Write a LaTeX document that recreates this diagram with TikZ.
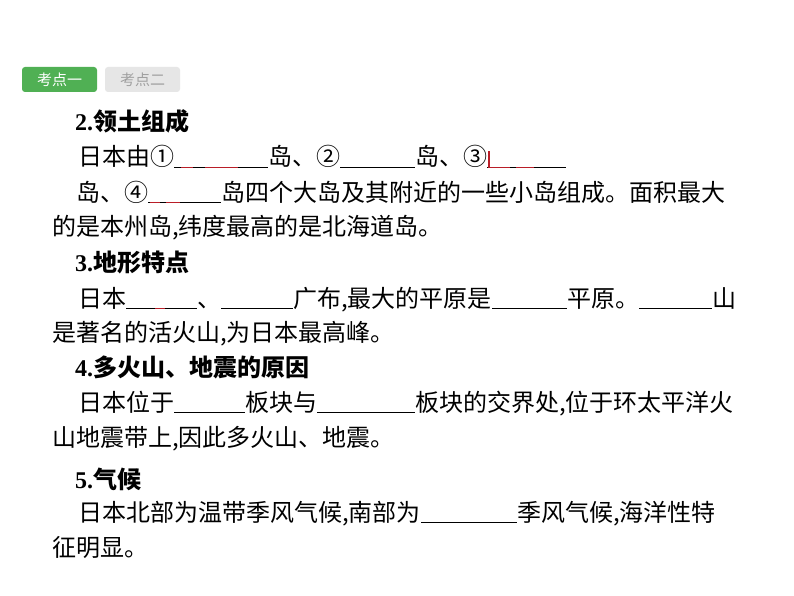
\documentclass[tikz,border=0pt]{standalone}
\usepackage{fontspec}
\setmainfont{Liberation Serif}
\newfontfamily\cjk{Noto Sans CJK SC}
\definecolor{tabgreen}{RGB}{80,176,84}
\definecolor{tabgrey}{RGB}{230,230,230}
\definecolor{tabtext}{RGB}{160,160,160}
\definecolor{markred}{RGB}{185,30,40}

\begin{document}
\begin{tikzpicture}[x=1pt,y=-1pt,
  body/.style={anchor=base west,inner sep=0pt,font=\cjk\fontsize{24}{24}\selectfont},
  head/.style={anchor=base west,inner sep=0pt,font=\cjk\bfseries\fontsize{24}{24}\selectfont},
  tab/.style={rounded corners=3pt,minimum width=75pt,minimum height=25pt,inner sep=0pt,font=\cjk\fontsize{15}{15}\selectfont},
  blank/.style={line width=1.6pt},
  redmark/.style={markred,line width=1.6pt}]

\useasboundingbox[fill=white] (0,0) rectangle (794,596);

% Tabs
\node (tabone) at (59.5,79.5) [tab,fill=tabgreen,text=white] {考点一};
\node (tabtwo) at (142.5,79.5) [tab,fill=tabgrey,text=tabtext] {考点二};

% 2. Territory
\node (h2) at (75,131) [head] {{\rmfamily 2.}领土组成};
\node (l1a) at (78,166) [body] {日本由①};
\node (l1b) at (268,166) [body] {岛、②};
\node (l1c) at (415,166) [body] {岛、③};
\coordinate (l1end) at (566,166);
\draw[blank] ([yshift=-1.5pt]l1a.base east) -- ([yshift=-1.5pt]l1b.base west);
\draw[blank] ([yshift=-1.5pt]l1b.base east) -- ([yshift=-1.5pt]l1c.base west);
\draw[blank] ([yshift=-1.5pt]l1c.base east) -- ([yshift=-1.5pt]l1end);
\node (l2a) at (76,201) [body] {岛、④};
\node (l2b) at (221,201) [body] {岛四个大岛及其附近的一些小岛组成。面积最大};
\draw[blank] ([yshift=-1.5pt]l2a.base east) -- ([yshift=-1.5pt]l2b.base west);
\node (l3) at (52,235) [body] {的是本州岛,纬度最高的是北海道岛。};

% 3. Landforms
\node (h3) at (75,271) [head] {{\rmfamily 3.}地形特点};
\node (l4a) at (78,307) [body] {日本};
\node (l4b) at (197,307) [body] {、};
\node (l4c) at (293,307) [body] {广布,最大的平原是};
\node (l4d) at (567,307) [body] {平原。};
\node (l4e) at (712,307) [body] {山};
\draw[blank] ([yshift=-1.5pt]l4a.base east) -- ([yshift=-1.5pt]l4b.base west);
\draw[blank] ([yshift=-1.5pt]l4b.base east) -- ([yshift=-1.5pt]l4c.base west);
\draw[blank] ([yshift=-1.5pt]l4c.base east) -- ([yshift=-1.5pt]l4d.base west);
\draw[blank] ([yshift=-1.5pt]l4d.base east) -- ([yshift=-1.5pt]l4e.base west);
\node (l5) at (52,341) [body] {是著名的活火山,为日本最高峰。};

% 4. Volcanoes and earthquakes
\node (h4) at (75,376) [head] {{\rmfamily 4.}多火山、地震的原因};
\node (l6a) at (78,411) [body] {日本位于};
\node (l6b) at (245,411) [body] {板块与};
\node (l6c) at (415,411) [body] {板块的交界处,位于环太平洋火};
\draw[blank] ([yshift=-1.5pt]l6a.base east) -- ([yshift=-1.5pt]l6b.base west);
\draw[blank] ([yshift=-1.5pt]l6b.base east) -- ([yshift=-1.5pt]l6c.base west);
\node (l7) at (52,446) [body] {山地震带上,因此多火山、地震。};

% 5. Climate
\node (h5) at (75,488) [head] {{\rmfamily 5.}气候};
\node (l8a) at (78,521) [body] {日本北部为温带季风气候,南部为};
\node (l8b) at (517,521) [body] {季风气候,海洋性特};
\draw[blank] ([yshift=-1.5pt]l8a.base east) -- ([yshift=-1.5pt]l8b.base west);
\node (l9) at (52,556) [body] {征明显。};

% Red marks left on the blanks
\draw[redmark] (181,167.5) -- (193,167.5);
\draw[redmark] (205,167.5) -- (238,167.5);
\draw[redmark] (489,151) -- (489,167.5) -- (510,167.5);
\draw[redmark] (516,167.5) -- (534,167.5);
\draw[redmark] (150,202.5) -- (160,202.5);
\draw[redmark] (166,202.5) -- (180,202.5);
\draw[redmark] (155,308.5) -- (165,308.5);

\end{tikzpicture}
\end{document}
